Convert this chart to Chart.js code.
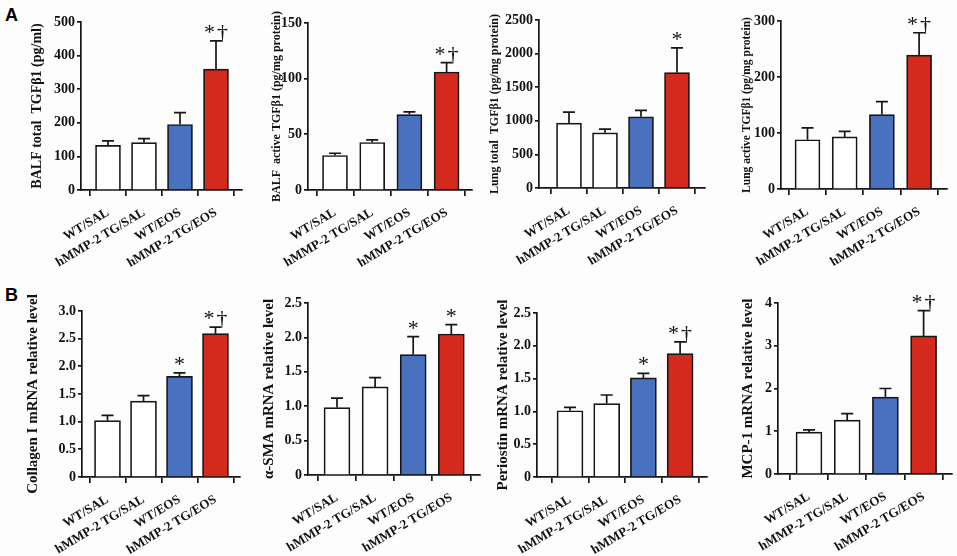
<!DOCTYPE html>
<html>
<head>
<meta charset="utf-8">
<script src="https://cdn.jsdelivr.net/npm/chart.js@4.4.1/dist/chart.umd.min.js"></script>
<style>
  body { margin: 0; background: #fff; }
  #fig { position: relative; width: 957px; height: 556px; overflow: hidden; background: #fdfdfd; }
  #fig canvas { position: absolute; }
  .tag { position: absolute; font: bold 18px "Liberation Sans", Arial, sans-serif; color: #000; }
</style>
</head>
<body>
<div id="fig">
  <div class="tag" style="left:5px;top:5px">A</div>
  <div class="tag" style="left:5px;top:285px">B</div>
</div>
<script>
// groups on the x axis (same in every panel)
const groups = ["WT/SAL", "hMMP-2 TG/SAL", "WT/EOS", "hMMP-2 TG/EOS"];

// A: TGF-beta1 protein
const balfTotalMean = [133, 141, 195, 360];
const balfTotalSem = [13, 12, 35, 84];
const balfTotalMarks = ["", "", "", "*†"];
const balfTotalTicks = ["0", "100", "200", "300", "400", "500"];

const balfActiveMean = [31, 42.7, 67.8, 106];
const balfActiveSem = [2, 2.3, 2.4, 8.4];
const balfActiveMarks = ["", "", "", "*†"];
const balfActiveTicks = ["0", "50", "100", "150"];

const lungTotalMean = [966, 821, 1060, 1716];
const lungTotalSem = [164, 55, 95, 369];
const lungTotalMarks = ["", "", "", "*"];
const lungTotalTicks = ["0", "500", "1000", "1500", "2000", "2500"];

const lungActiveMean = [88, 93, 133, 239];
const lungActiveSem = [21, 10, 23, 40];
const lungActiveMarks = ["", "", "", "*†"];
const lungActiveTicks = ["0", "100", "200", "300"];

// B: mRNA relative levels
const collagenMean = [1.02, 1.37, 1.82, 2.59];
const collagenSem = [0.095, 0.10, 0.06, 0.12];
const collagenMarks = ["", "", "*", "*†"];
const collagenTicks = ["0", "0.5", "1.0", "1.5", "2.0", "2.5", "3.0"];

const smaMean = [0.98, 1.28, 1.75, 2.05];
const smaSem = [0.136, 0.136, 0.26, 0.136];
const smaMarks = ["", "", "*", "*"];
const smaTicks = ["0", "0.5", "1.0", "1.5", "2.0", "2.5"];

const periostinMean = [1.01, 1.12, 1.51, 1.88];
const periostinSem = [0.05, 0.13, 0.07, 0.18];
const periostinMarks = ["", "", "*", "*†"];
const periostinTicks = ["0", "0.5", "1.0", "1.5", "2.0", "2.5"];

const mcpMean = [0.98, 1.26, 1.80, 3.23];
const mcpSem = [0.05, 0.15, 0.20, 0.59];
const mcpMarks = ["", "", "", "*†"];
const mcpTicks = ["0", "1", "2", "3", "4"];

const fillColors = ["#ffffff", "#ffffff", "#4a70c0", "#d42a1e"];
const ink = "#161616";
const serif = "'Liberation Serif', 'Times New Roman', serif";

// page geometry of each panel: y-axis x, top tick y, zero y, axis end, first bar offset, bar gap, title centre, title size
const panels = [
  { title: "BALF total  TGFβ1 (pg/ml)", mean: balfTotalMean, sem: balfTotalSem, marks: balfTotalMarks, ticks: balfTotalTicks,
    box: { ax: 81, top: 22, zero: 190, right: 242, first: 27, gap: 36, tx: 37, fs: 14, rowTop: 0, rowH: 280 } },
  { title: "BALF  active TGFβ1 (pg/mg protein)", mean: balfActiveMean, sem: balfActiveSem, marks: balfActiveMarks, ticks: balfActiveTicks,
    box: { ax: 308, top: 23, zero: 190, right: 472, first: 27, gap: 37.2, tx: 277, fs: 12, rowTop: 0, rowH: 280 } },
  { title: "Lung total  TGFβ1 (pg/mg protein)", mean: lungTotalMean, sem: lungTotalSem, marks: lungTotalMarks, ticks: lungTotalTicks,
    box: { ax: 539, top: 20, zero: 188, right: 705, first: 30, gap: 36, tx: 495, fs: 12, rowTop: 0, rowH: 280 } },
  { title: "Lung active TGFβ1 (pg/mg protein)", mean: lungActiveMean, sem: lungActiveSem, marks: lungActiveMarks, ticks: lungActiveTicks,
    box: { ax: 781, top: 21, zero: 189, right: 947, first: 26.5, gap: 37.2, tx: 747, fs: 11.5, rowTop: 0, rowH: 280 } },
  { title: "Collagen I mRNA relative level", mean: collagenMean, sem: collagenSem, marks: collagenMarks, ticks: collagenTicks,
    box: { ax: 82, top: 311, zero: 477, right: 240, first: 25.5, gap: 36, tx: 33, fs: 15, rowTop: 280, rowH: 276 } },
  { title: "α-SMA mRNA relative level", mean: smaMean, sem: smaSem, marks: smaMarks, ticks: smaTicks,
    box: { ax: 308, top: 303, zero: 475, right: 480, first: 29, gap: 38.1, tx: 269, fs: 15, rowTop: 280, rowH: 276 } },
  { title: "Periostin mRNA relative level", mean: periostinMean, sem: periostinSem, marks: periostinMarks, ticks: periostinTicks,
    box: { ax: 537, top: 313, zero: 477, right: 707, first: 33, gap: 36.7, tx: 503, fs: 15, rowTop: 280, rowH: 276 } },
  { title: "MCP-1 mRNA relative level", mean: mcpMean, sem: mcpSem, marks: mcpMarks, ticks: mcpTicks,
    box: { ax: 778, top: 303, zero: 474, right: 952, first: 31, gap: 38.2, tx: 748, fs: 15, rowTop: 280, rowH: 276 } },
];

// error bars (upper half only) plus the significance marks
const errorBars = {
  id: "errorBars",
  afterDatasetsDraw(chart) {
    const ctx = chart.ctx;
    const y = chart.scales.y;
    const ds = chart.data.datasets[0];
    const meta = chart.getDatasetMeta(0);
    ctx.save();
    ctx.strokeStyle = ink;
    ctx.lineWidth = 1.7;
    ctx.fillStyle = "#111";
    ctx.font = "22px " + serif;
    ctx.textAlign = "center";
    ctx.textBaseline = "alphabetic";
    ctx.letterSpacing = "2px";
    meta.data.forEach((bar, i) => {
      const top = y.getPixelForValue(ds.mean[i] + ds.sem[i]);
      ctx.beginPath();
      ctx.moveTo(bar.x, bar.y);
      ctx.lineTo(bar.x, top);
      ctx.moveTo(bar.x - 6, top);
      ctx.lineTo(bar.x + 6, top);
      ctx.stroke();
      if (ds.marks[i]) ctx.fillText(ds.marks[i], bar.x + 1, top - 2);
    });
    ctx.restore();
  }
};

const fig = document.getElementById("fig");

panels.forEach((p) => {
  const b = p.box;
  const left = Math.round(b.tx - 0.6 * b.fs);
  const width = Math.round(b.right - left + 10);
  const canvas = document.createElement("canvas");
  canvas.width = width;
  canvas.height = b.rowH;
  canvas.style.left = left + "px";
  canvas.style.top = b.rowTop + "px";
  canvas.style.width = width + "px";
  canvas.style.height = b.rowH + "px";
  fig.appendChild(canvas);

  const yVals = p.ticks.map(Number);
  const xMin = -b.first / b.gap;
  const xMax = xMin + (b.right - b.ax) / b.gap;
  const yAxisWidth = b.ax - left;
  const xAxisHeight = b.rowTop + b.rowH - b.zero;

  new Chart(canvas, {
    type: "bar",
    data: {
      datasets: [{
        data: p.mean.map((v, i) => ({ x: i, y: v })),
        mean: p.mean,
        sem: p.sem,
        marks: p.marks,
        backgroundColor: fillColors,
        borderColor: ink,
        borderWidth: 1.7,
        barThickness: b.rowTop > 0 ? 26 : 25,
      }],
    },
    options: {
      responsive: false,
      animation: false,
      events: [],
      layout: { padding: { left: 0, top: b.top - b.rowTop, right: width - (b.right - left), bottom: 0 } },
      plugins: { legend: { display: false }, tooltip: { enabled: false } },
      scales: {
        x: {
          type: "linear",
          offset: false,
          min: xMin,
          max: xMax,
          afterBuildTicks: (scale) => { scale.ticks = groups.map((g, i) => ({ value: i })); },
          afterFit: (scale) => { scale.height = xAxisHeight; scale.paddingLeft = 0; scale.paddingRight = 0; },
          grid: { drawOnChartArea: false, drawTicks: true, tickLength: 6, color: ink, lineWidth: 1.7 },
          border: { display: true, color: ink, width: 1.7 },
          ticks: {
            autoSkip: false,
            minRotation: 31,
            maxRotation: 31,
            padding: 9,
            color: "#111",
            font: { family: serif, size: 13, weight: "bold" },
            callback: (v) => groups[v],
          },
        },
        y: {
          min: 0,
          max: yVals[yVals.length - 1],
          afterBuildTicks: (scale) => { scale.ticks = yVals.map((v) => ({ value: v })); },
          afterFit: (scale) => { scale.width = yAxisWidth; scale.paddingTop = 0; scale.paddingBottom = 0; },
          grid: { drawOnChartArea: false, drawTicks: true, tickLength: 4, color: ink, lineWidth: 1.7 },
          border: { display: true, color: ink, width: 1.7 },
          ticks: {
            padding: 2,
            color: "#111",
            font: { family: serif, size: 14, weight: "bold" },
            callback: (v) => p.ticks[yVals.indexOf(v)],
          },
          title: {
            display: true,
            text: p.title,
            color: "#111",
            padding: 0,
            font: { family: serif, size: b.fs, weight: "bold" },
          },
        },
      },
    },
    plugins: [errorBars],
  });
});
</script>
</body>
</html>
